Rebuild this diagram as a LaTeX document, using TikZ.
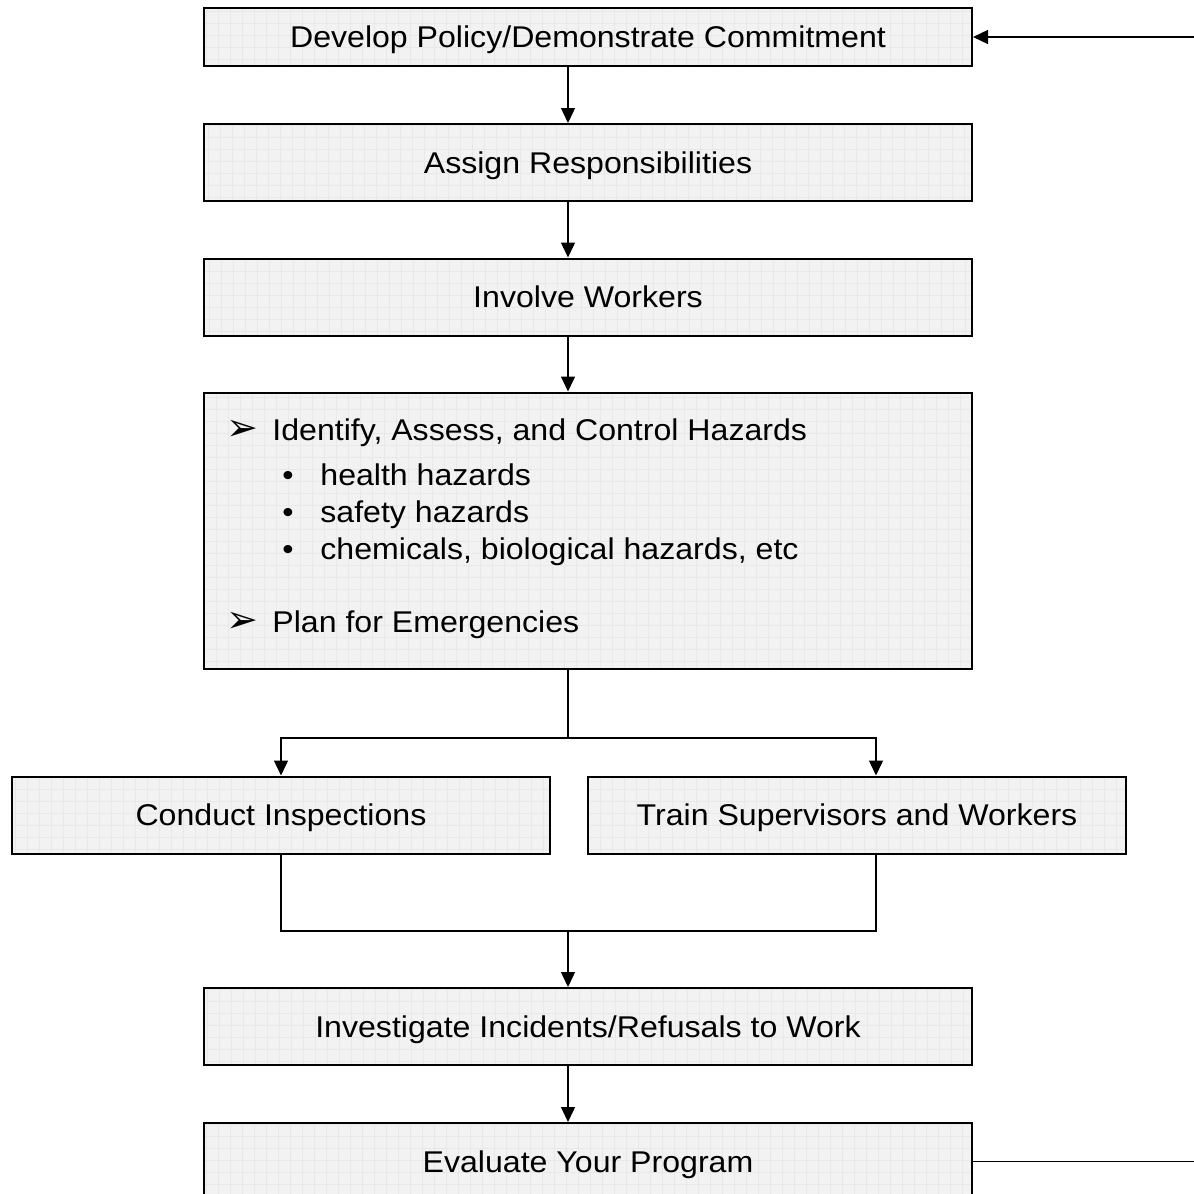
\documentclass[tikz,border=0pt]{standalone}
\usepackage{fontspec}
\setmainfont{Liberation Sans}[FakeStretch=1.07]
\newfontfamily\symfont{DejaVu Sans}
\usetikzlibrary{arrows.meta,positioning}

\begin{document}
\begin{tikzpicture}[x=0.5pt, y=-0.5pt,
  stage/.style={draw, line width=1pt, fill=black!5, minimum width=384pt,
    minimum height=38.5pt, inner sep=0pt, text height=10.7pt, text depth=0pt,
    font=\fontsize{15}{18}\selectfont,
    path picture={\draw[black!9, line width=0.3pt, step=6pt]
      (path picture bounding box.south west) grid (path picture bounding box.north east);}},
  item/.style={anchor=west, inner sep=0pt, text height=10.7pt, text depth=0pt,
    font=\fontsize{15}{18}\selectfont},
  flow/.style={-{Triangle[length=7.5pt,width=7pt]}, line width=0.7pt},
  link/.style={line width=0.7pt}
]
  \useasboundingbox (0,0) rectangle (1194,1194);
  \node[stage, minimum height=29pt] (pol) at (588,37)   {Develop Policy/Demonstrate Commitment};
  \node[stage] (asg)    at (588,162.5)  {Assign Responsibilities};
  \node[stage] (inv)    at (588,297)    {Involve Workers};
  \node[stage, minimum height=138pt] (haz) at (588,530.5) {};
  \node[stage, minimum width=269pt] (insp)  at (281,815) {Conduct Inspections};
  \node[stage, minimum width=269pt] (train) at (857,815) {Train Supervisors and Workers};
  \node[stage] (invest) at (588,1026.5) {Investigate Incidents/Refusals to Work};
  \node[stage] (eval)   at (588,1161.5) {Evaluate Your Program};
  % items in the hazard box
  \node[item, font=\symfont\fontsize{19}{20}\selectfont] (m1) at (226,430) {➢};
  \node[item] (t1) at (272,430) {Identify, Assess, and Control Hazards};
  \node[item] (b1) at (282,475) {•};
  \node[item] (t2) at (320,475) {health hazards};
  \node[item] (b2) at (282,512) {•};
  \node[item] (t3) at (320,512) {safety hazards};
  \node[item] (b3) at (282,549) {•};
  \node[item] (t4) at (320,549) {chemicals, biological hazards, etc};
  \node[item, font=\symfont\fontsize{19}{20}\selectfont] (m2) at (226,622) {➢};
  \node[item] (t5) at (272,622) {Plan for Emergencies};
  % connectors
  \coordinate (split) at (568,738);
  \coordinate (join)  at (568,931);
  \coordinate (back)  at (1194,37);
  \coordinate (out)   at (1194,1161.5);
  \draw[flow] ([xshift=-10pt]pol.south) -- ([xshift=-10pt]asg.north);
  \draw[flow] ([xshift=-10pt]asg.south) -- ([xshift=-10pt]inv.north);
  \draw[flow] ([xshift=-10pt]inv.south) -- ([xshift=-10pt]haz.north);
  \draw[link] ([xshift=-10pt]haz.south) -- (split);
  \draw[flow] (split) -| (insp.north);
  \draw[flow] (split) -| ([xshift=9.5pt]train.north);
  \draw[link] (insp.south) |- (join) -| ([xshift=9.5pt]train.south);
  \draw[flow] (join) -- ([xshift=-10pt]invest.north);
  \draw[flow] ([xshift=-10pt]invest.south) -- ([xshift=-10pt]eval.north);
  \draw[link] (eval.east) -- (out);
  \draw[flow] (back) -- (pol.east);
\end{tikzpicture}
\end{document}
